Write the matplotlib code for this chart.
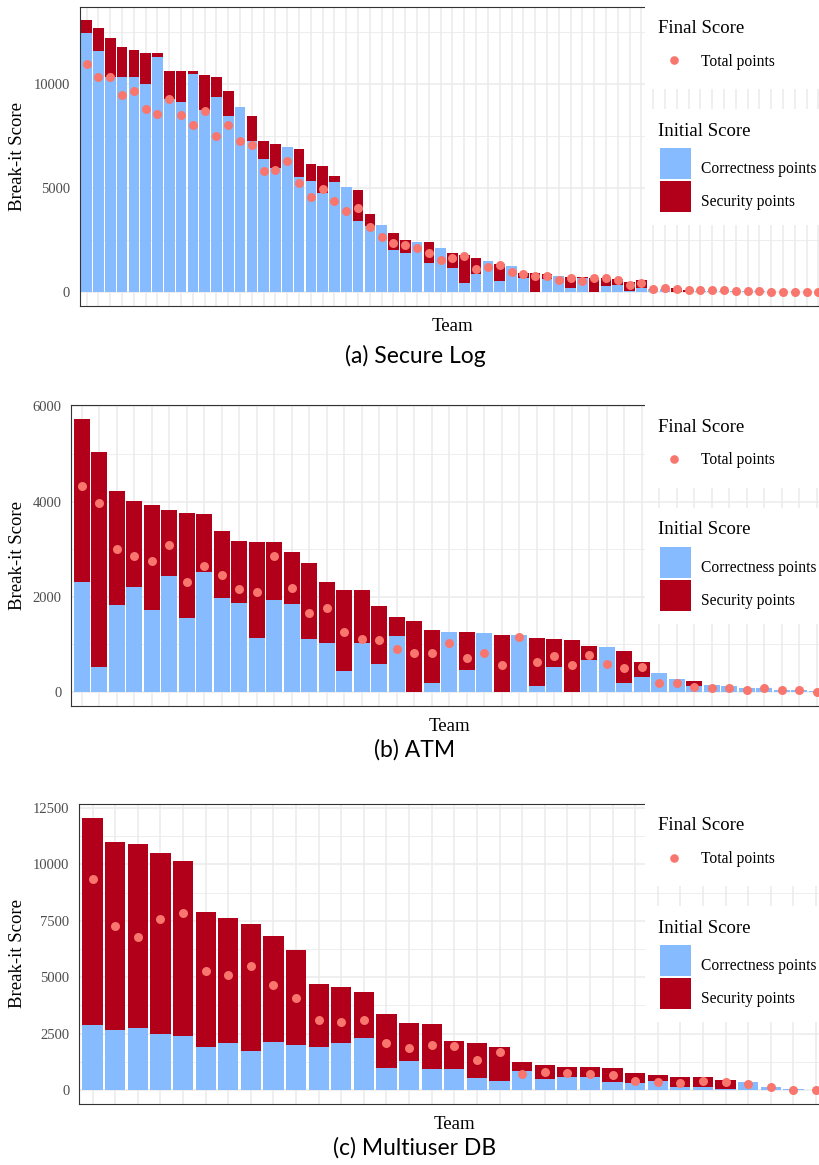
import matplotlib
matplotlib.use("Agg")
import matplotlib.pyplot as plt
from matplotlib.patches import Rectangle
from matplotlib.lines import Line2D
import numpy as np

plt.rcParams['font.family'] = ['Liberation Serif', 'DejaVu Serif']

# Colours
BLUE = '#86BCFF'
RED = '#B2001A'
DOT = '#F8766D'

# (a) Secure Log - 63 teams
corr_a = [12440, 11590, 10350, 10350, 10320, 9980, 11270, 9270, 9140, 10480,
          8730, 9350, 8440, 8890, 7270, 6380, 5970, 6950, 5520, 5330,
          4760, 5290, 5060, 3440, 3190, 3210, 2050, 1890, 2440, 1430,
          2130, 1190, 460, 860, 1490, 570, 1270, 670, 0, 630,
          790, 220, 670, 0, 330, 360, 60, 190, 180, 170,
          0, 40, 90, 90, 80, 70, 60, 50, 40, 30,
          30, 20, 10]
sec_a = [610, 1090, 1840, 1400, 1300, 1510, 190, 1330, 1460, 120,
         1680, 1000, 1230, 0, 1190, 860, 1140, 0, 1370, 810,
         1320, 280, 0, 1490, 560, 0, 820, 600, 0, 980,
         0, 680, 1320, 770, 0, 810, 0, 270, 940, 260,
         0, 540, 60, 710, 370, 270, 440, 400, 0, 0,
         200, 70, 0, 0, 0, 0, 0, 0, 0, 0,
         0, 0, 0]
total_a = [10940, 10330, 10330, 9490, 9670, 8780, 8540, 9290, 8490, 8030,
           8710, 7520, 8020, 7270, 7060, 5810, 5890, 6320, 5240, 4590,
           4940, 4380, 3890, 4040, 3140, 2650, 2350, 2290, 2130, 1890,
           1540, 1630, 1730, 1110, 1240, 1290, 1000, 890, 810, 810,
           590, 670, 540, 700, 700, 600, 340, 470, 160, 190,
           160, 110, 100, 110, 110, 60, 80, 60, 30, 20,
           20, 30, 20]

# (b) ATM - 43 teams
corr_b = [2320, 520, 1820, 2200, 1720, 2430, 1550, 2520, 1980, 1880,
          1140, 1940, 1850, 1120, 1020, 440, 1040, 590, 1170, 0,
          190, 1270, 470, 1250, 0, 1200, 130, 520, 0, 670,
          940, 180, 320, 400, 270, 130, 150, 130, 80, 80,
          50, 50, 30]
sec_b = [3410, 4510, 2410, 1810, 2210, 1400, 2210, 1210, 1400, 1290,
         2010, 1210, 1100, 1600, 1290, 1710, 1110, 1210, 400, 1500,
         1110, 0, 800, 0, 1200, 0, 1000, 600, 1100, 300,
         0, 690, 310, 0, 0, 100, 0, 0, 0, 0,
         0, 0, 0]
total_b = [4320, 3970, 3010, 2850, 2760, 3080, 2320, 2650, 2460, 2170,
           2110, 2850, 2180, 1650, 1760, 1270, 1110, 1090, 910, 830,
           810, 1020, 710, 810, 570, 1150, 640, 760, 570, 780,
           590, 500, 520, 180, 190, 100, 90, 80, 50, 80,
           50, 40, 10]

# (c) Multiuser DB - 33 teams
corr_c = [2880, 2680, 2740, 2470, 2380, 1930, 2070, 1710, 2150, 2020,
          1930, 2070, 2310, 1000, 1270, 930, 940, 520, 410, 850,
          470, 590, 560, 370, 330, 410, 130, 150, 40, 350,
          130, 40, 0]
sec_c = [9180, 8310, 8170, 8030, 7770, 5950, 5550, 5670, 4660, 4170,
         2750, 2490, 2040, 2380, 1700, 2010, 1250, 1550, 1520, 410,
         630, 430, 460, 620, 410, 270, 470, 450, 410, 0,
         0, 0, 0]
total_c = [9350, 7280, 6780, 7570, 7850, 5280, 5090, 5520, 4660, 4100,
           3090, 3020, 3120, 2100, 1880, 2000, 1960, 1350, 1690, 710,
           820, 770, 710, 690, 420, 380, 320, 410, 350, 250,
           120, 0, 0]

panels = [
    # data, ticks, caption, (left, top, right, bottom) in pixels, caption y
    (corr_a, sec_a, total_a, [0, 5000, 10000], '(a) Secure Log', (79.6, 6.7, 825.4, 306.0), 356),
    (corr_b, sec_b, total_b, [0, 2000, 4000, 6000], '(b) ATM', (71.2, 405.5, 827.2, 705.7), 750),
    (corr_c, sec_c, total_c, [0, 2500, 5000, 7500, 10000, 12500], '(c) Multiuser DB', (79.1, 804.3, 829.5, 1103.7), 1148),
]

W, H = 820, 1165
fig = plt.figure(figsize=(W / 100, H / 100), dpi=100)

def fx(x):
    return x / W

def fy(y):
    return 1 - y / H

for corr, sec, total, ticks, caption, (l, t, r, b), cap_y in panels:
    ax = fig.add_axes([fx(l), fy(b), fx(r - l), (b - t) / H])
    n = len(corr)
    x = np.arange(1, n + 1)
    corr = np.array(corr)
    sec = np.array(sec)

    ax.bar(x, corr, width=0.9, color=BLUE, linewidth=0)
    ax.bar(x, sec, bottom=corr, width=0.9, color=RED, linewidth=0)
    ax.scatter(x, total, s=42, color=DOT, linewidths=0, zorder=3)

    top = max((corr + sec).max(), max(total))
    ax.set_ylim(-0.05 * top, 1.05 * top)
    ax.set_xlim(0.4, n + 0.6)

    ax.set_xticks(x)
    ax.set_xticklabels([])
    ax.set_yticks(ticks)
    ax.set_yticklabels([str(v) for v in ticks])
    step = ticks[1] - ticks[0]
    minors = np.arange(step / 2, 1.05 * top, step)
    ax.set_yticks(minors, minor=True)
    ax.tick_params(axis='both', which='both', length=0)
    ax.tick_params(axis='y', labelsize=10.5, labelcolor='#4D4D4D', pad=7)

    ax.set_axisbelow(True)
    ax.grid(which='major', color='#EBEBEB', linewidth=1.1)
    ax.grid(which='minor', axis='y', color='#EBEBEB', linewidth=0.6)
    for s in ax.spines.values():
        s.set_color('#333333')
        s.set_linewidth(0.8)

    ax.set_ylabel('Break-it Score', fontsize=13.5)
    ax.yaxis.set_label_coords((26 - l) / (r - l), 0.5)
    ax.set_xlabel('Team', fontsize=13.5)
    ax.xaxis.set_label_coords(0.5, -12 / (b - t))

    # legend backgrounds (two separate boxes, grid shows between them)
    fig.add_artist(Rectangle((fx(645), fy(t + 82)), fx(200), 85 / H,
                             transform=fig.transFigure, facecolor='white',
                             edgecolor='none', zorder=1))
    fig.add_artist(Rectangle((fx(645), fy(t + 218)), fx(200), 116 / H,
                             transform=fig.transFigure, facecolor='white',
                             edgecolor='none', zorder=1))

    fig.text(fx(658), fy(t + 26), 'Final Score', fontsize=13.5, va='baseline', ha='left')
    fig.text(fx(658), fy(t + 129), 'Initial Score', fontsize=13.5, va='baseline', ha='left')

    fs = 11.2
    fpx = fs * 100 / 72
    h1 = [Line2D([], [], marker='o', linestyle='', color=DOT, markersize=6.2,
                 markeredgewidth=0)]
    fig.legend(h1, ['Total points'], loc='center left',
               bbox_to_anchor=(fx(659), fy(t + 55)), bbox_transform=fig.transFigure,
               frameon=False, fontsize=fs, borderpad=0, borderaxespad=0,
               handlelength=30 / fpx, handletextpad=12 / fpx)
    # row height of a legend entry = fs*hh - 0.35*fs*(hh-0.7); solve for 31 px
    hh = (31 / fpx - 0.245) / 0.65
    h2 = [Line2D([], [], marker='s', linestyle='', color=c, markersize=31 * 0.72,
                 markeredgewidth=0) for c in (BLUE, RED)]
    fig.legend(h2, ['Correctness points', 'Security points'], loc='upper left',
               bbox_to_anchor=(fx(659), fy(t + 146)), bbox_transform=fig.transFigure,
               frameon=False, fontsize=fs, borderpad=0, borderaxespad=0,
               handlelength=31 / fpx, handleheight=hh,
               labelspacing=2 / fpx, handletextpad=11 / fpx)

    fig.text(fx(415), fy(cap_y), caption, fontsize=16.5, family='Lato',
             ha='center', va='center')

fig.savefig('out.png', dpi=100)
